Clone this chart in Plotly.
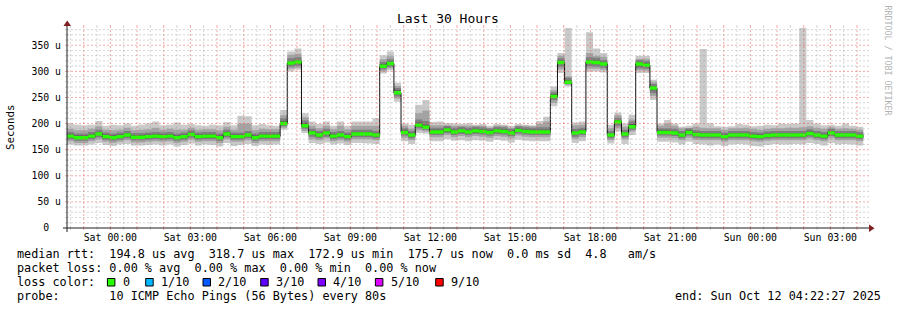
import pandas as pd
import plotly.graph_objects as go

# ---------------- data ----------------
bin_start = "2025-10-10 22:22:00"
bin_minutes = 16
range_start = "2025-10-10 22:22:27"
range_end = "2025-10-12 04:22:27"

median = [176,173,173,176,180,175,173,175,178,174,174,175,176,175,176,173,
          175,179,175,176,176,173,180,175,175,178,173,176,176,176,200,316,
          318,196,182,178,182,176,178,175,180,180,180,178,310,315,259,183,
          178,197,193,184,184,188,184,186,184,186,185,183,186,185,182,187,
          185,184,184,184,252,317,279,182,184,318,317,314,178,203,180,194,
          314,312,268,183,183,182,178,183,179,178,178,178,175,178,178,178,
          176,175,177,178,178,178,178,178,181,178,176,182,178,178,178,176]

ping1 = [160,158,158,160,163,159,157,160,161,158,158,159,160,158,160,156,
         159,162,158,160,159,156,163,157,159,161,157,160,159,160,188,300,
         303,182,163,161,164,160,162,159,163,163,162,161,296,302,242,166,
         161,182,181,166,166,170,167,168,166,168,167,165,169,167,164,169,
         167,166,166,166,233,297,271,163,166,300,300,298,162,185,161,178,
         297,297,245,165,165,164,160,165,161,160,158,160,157,160,161,160,
         157,156,159,161,160,160,161,160,163,161,158,163,160,161,160,158]
ping2 = [166,163,163,166,170,165,163,165,168,164,164,165,166,165,166,163,
         165,169,165,166,166,163,170,165,165,168,163,166,166,166,192,305,
         307,186,170,168,172,166,168,165,170,170,170,168,300,306,248,173,
         168,187,185,174,174,178,174,176,174,176,175,173,176,175,172,177,
         175,174,174,174,240,304,274,171,174,305,305,303,168,191,170,185,
         302,301,253,173,173,172,168,173,169,168,168,168,165,168,168,168,
         166,165,167,168,168,168,168,168,171,168,166,172,168,168,168,166]
ping3 = [170,167,167,170,174,169,167,169,172,168,168,169,170,169,170,167,
         169,173,169,170,170,167,174,169,169,172,167,170,170,170,195,309,
         311,190,175,172,175,170,172,169,174,174,174,172,304,309,252,177,
         172,191,188,178,178,182,178,180,178,180,179,177,180,179,176,181,
         179,178,178,178,245,309,276,175,178,310,309,307,172,196,174,188,
         306,305,258,177,177,176,172,177,173,172,172,172,169,172,172,172,
         170,169,171,172,172,172,172,172,175,172,170,176,172,172,172,170]
ping4 = [173,170,170,173,177,172,170,172,175,171,171,172,173,172,173,170,
         172,176,172,173,173,170,177,172,172,175,170,173,173,173,198,313,
         315,193,179,175,179,173,175,172,177,177,177,175,307,312,256,180,
         175,194,191,181,181,185,181,183,181,183,182,180,183,182,179,184,
         182,181,181,181,249,314,278,179,181,315,314,311,175,200,177,191,
         310,309,264,180,180,179,175,180,176,175,175,175,172,175,175,175,
         173,172,174,175,175,175,175,175,178,175,173,179,175,175,175,173]
ping5 = [175,172,172,175,179,174,172,174,177,173,173,174,175,174,175,172,
         174,178,174,175,175,172,179,174,174,177,172,175,175,175,199,315,
         317,195,181,177,181,175,177,174,179,179,179,177,309,314,258,182,
         177,196,192,183,183,187,183,185,183,185,184,182,185,184,181,186,
         184,183,183,183,251,316,279,181,183,317,316,313,177,202,179,193,
         313,311,267,182,182,181,177,182,178,177,177,177,174,177,177,177,
         175,174,176,177,177,177,177,177,180,177,175,181,177,177,177,175]
ping6 = [177,174,174,177,181,176,174,176,179,175,175,176,177,176,177,174,
         176,180,176,177,177,174,181,176,176,179,174,177,177,177,201,317,
         319,197,183,179,183,177,179,176,181,181,181,179,311,316,260,184,
         179,198,194,185,185,189,185,187,185,187,186,184,187,186,183,188,
         186,185,185,185,253,318,280,183,185,319,318,315,179,204,181,195,
         315,313,269,184,184,183,179,184,180,179,179,179,176,179,179,179,
         177,176,178,179,179,179,179,179,182,179,177,183,179,179,179,177]
ping7 = [180,177,177,180,184,179,177,179,182,178,178,179,180,179,180,177,
         179,183,179,180,180,177,184,179,179,182,177,180,180,180,205,320,
         322,201,186,182,186,180,182,179,184,184,184,182,314,319,264,187,
         182,202,198,188,188,192,188,190,188,190,189,187,190,189,186,191,
         189,188,188,188,256,321,283,186,188,322,321,318,182,207,184,199,
         318,316,272,187,187,186,182,187,183,182,182,182,179,182,182,182,
         180,179,181,182,182,182,182,182,185,182,180,186,182,182,182,180]
ping8 = [184,181,181,184,188,183,181,183,186,182,182,183,184,183,184,181,
         183,187,183,184,184,181,188,183,183,186,181,184,184,184,210,325,
         327,206,190,186,190,184,186,183,188,188,188,186,318,323,268,191,
         186,208,205,192,192,196,192,194,192,194,193,191,194,193,190,195,
         193,192,193,193,260,325,288,190,192,327,326,322,186,211,188,204,
         322,320,276,191,191,190,186,191,187,186,186,186,183,186,186,186,
         184,183,185,186,186,186,186,186,189,186,184,190,186,186,186,184]
ping9 = [190,187,187,190,195,188,187,188,192,187,188,189,192,188,190,188,
         188,192,188,189,189,187,194,188,200,200,187,190,189,189,216,332,
         334,212,196,191,196,189,196,189,196,196,196,196,323,329,272,196,
         190,220,225,197,197,196,196,196,196,196,196,192,196,196,192,196,
         196,195,199,204,264,330,290,197,198,335,330,328,191,216,194,208,
         324,324,279,196,200,196,191,191,194,192,191,191,188,191,191,192,
         190,188,190,191,191,192,192,193,195,192,190,193,190,191,190,188]
ping10 = [200,198,197,198,205,196,198,197,200,196,198,200,204,197,198,202,
          198,199,197,196,198,197,203,197,215,214,197,199,197,196,226,338,
          344,220,204,199,204,196,204,196,204,204,204,210,331,338,278,200,
          198,236,245,203,204,201,200,199,200,198,199,196,199,198,196,199,
          198,197,205,213,271,335,383,202,204,375,344,335,198,221,200,217,
          330,330,284,200,207,200,194,196,200,343,200,195,194,195,199,198,
          195,196,198,197,200,199,200,383,207,200,197,198,196,200,196,194]

y_tick_vals = [0, 50, 100, 150, 200, 250, 300, 350]
y_tick_text = ["0\u00a0\u00a0", "50 u", "100 u", "150 u", "200 u", "250 u", "300 u", "350 u"]
x_tick_vals = ["2025-10-11 00:00", "2025-10-11 03:00", "2025-10-11 06:00", "2025-10-11 09:00",
               "2025-10-11 12:00", "2025-10-11 15:00", "2025-10-11 18:00", "2025-10-11 21:00",
               "2025-10-12 00:00", "2025-10-12 03:00"]
x_tick_text = ["Sat 00:00", "Sat 03:00", "Sat 06:00", "Sat 09:00", "Sat 12:00", "Sat 15:00",
               "Sat 18:00", "Sat 21:00", "Sun 00:00", "Sun 03:00"]

legend_rtt = "median rtt:  194.8 us avg  318.7 us max  172.9 us min  175.7 us now  0.0 ms sd  4.8   am/s"
legend_loss = "packet loss: 0.00 % avg  0.00 % max  0.00 % min  0.00 % now"
legend_probe = "probe:       10 ICMP Echo Pings (56 Bytes) every 80s"
legend_end = "end: Sun Oct 12 04:22:27 2025"
loss_labels = ["0", "1/10", "2/10", "3/10", "4/10", "5/10", "9/10"]
loss_colors = ["#26ff00", "#00b8ff", "#0059ff", "#5e00ff", "#7e00ff", "#dd00ff", "#ff0000"]

# ---------------- styling / layout ----------------
MONO = "DejaVu Sans Mono"
W, H = 897, 310
L, R, T, B = 67, 30, 27, 82
PW, PH = W - L - R, H - T - B
y_max = 385


def px(x):
    return (x - L) / PW


def py(y):
    return (H - B - y) / PH


def nb(s):
    return s.replace(" ", "\u00a0")


edges = pd.date_range(bin_start, periods=len(median) + 1, freq=f"{bin_minutes}min")


def stepped(v):
    return list(v) + [v[-1]]


pings = [ping1, ping2, ping3, ping4, ping5, ping6, ping7, ping8, ping9, ping10]
smoke_colors = ["#cacaca", "#a4a4a4", "#7e7e7e", "#585858", "#323232"]

fig = go.Figure()
for i, col in enumerate(smoke_colors):
    lo, hi = pings[i], pings[9 - i]
    fig.add_trace(go.Scatter(x=edges, y=stepped(lo), mode="lines",
                             line=dict(width=0, shape="hv"), hoverinfo="skip", showlegend=False))
    fig.add_trace(go.Scatter(x=edges, y=stepped(hi), mode="lines", fill="tonexty", fillcolor=col,
                             line=dict(width=0, shape="hv"), hoverinfo="skip", showlegend=False))

fig.add_trace(go.Scatter(x=edges, y=stepped(median), mode="lines",
                         line=dict(width=1, shape="hv", color="#101010"),
                         hoverinfo="skip", showlegend=False))
half = 3.3
fig.add_trace(go.Scatter(x=edges, y=stepped([m - half for m in median]), mode="lines",
                         line=dict(width=0, shape="hv"), hoverinfo="skip", showlegend=False))
fig.add_trace(go.Scatter(x=edges, y=stepped([m + half for m in median]), mode="lines",
                         fill="tonexty", fillcolor=loss_colors[0],
                         line=dict(width=0, shape="hv"), hoverinfo="skip", showlegend=False))

shapes = []
grid_minor = "rgba(150,150,150,0.4)"
grid_major = "rgba(235,110,110,0.6)"
dots = "2px,2px"

# vertical grid
t = pd.Timestamp(range_start).ceil("30min")
t_end = pd.Timestamp(range_end)
while t <= t_end:
    col = grid_major if t.minute == 0 else grid_minor
    ts = t.strftime("%Y-%m-%d %H:%M:%S")
    shapes.append(dict(type="line", xref="x", yref="paper", x0=ts, x1=ts, y0=0, y1=1,
                       line=dict(color=col, width=1, dash=dots), layer="above"))
    shapes.append(dict(type="line", xref="x", yref="paper", x0=ts, x1=ts, y0=-2 / PH, y1=0,
                       line=dict(color=col, width=1), layer="above"))
    shapes.append(dict(type="line", xref="x", yref="paper", x0=ts, x1=ts, y0=1, y1=1 + 2 / PH,
                       line=dict(color=col, width=1), layer="above"))
    t += pd.Timedelta(minutes=30)

# horizontal grid
for v in range(10, y_max, 10):
    col = grid_major if v % 50 == 0 else grid_minor
    shapes.append(dict(type="line", xref="paper", yref="y", x0=0, x1=1, y0=v, y1=v,
                       line=dict(color=col, width=1, dash=dots), layer="above"))
    shapes.append(dict(type="line", xref="paper", yref="y", x0=-2 / PW, x1=0, y0=v, y1=v,
                       line=dict(color=col, width=1), layer="above"))
    shapes.append(dict(type="line", xref="paper", yref="y", x0=1, x1=1 + 2 / PW, y0=v, y1=v,
                       line=dict(color=col, width=1), layer="above"))

# axes + arrows
axis_col = "#1f1f1f"
arrow_col = "#801f1f"
shapes.append(dict(type="line", xref="paper", yref="paper", x0=px(63), x1=px(871), y0=0, y1=0,
                   line=dict(color=axis_col, width=1), layer="above"))
shapes.append(dict(type="line", xref="paper", yref="paper", x0=0, x1=0, y0=py(232), y1=py(23),
                   line=dict(color=axis_col, width=1), layer="above"))
shapes.append(dict(type="path", xref="paper", yref="paper",
                   path=f"M {px(869)} {py(224.5)} L {px(869)} {py(232)} L {px(874.5)} {py(228.2)} Z",
                   fillcolor=arrow_col, line=dict(width=0), layer="above"))
shapes.append(dict(type="path", xref="paper", yref="paper",
                   path=f"M {px(63.5)} {py(26)} L {px(71)} {py(26)} L {px(67.2)} {py(20.5)} Z",
                   fillcolor=arrow_col, line=dict(width=0), layer="above"))

# loss colour swatches
sw_x = [107.4, 145.7, 203.0, 260.7, 318.0, 375.4, 435.7]
for xx, c in zip(sw_x, loss_colors):
    shapes.append(dict(type="rect", xref="paper", yref="paper",
                       x0=px(xx), x1=px(xx + 7.5), y0=py(286), y1=py(278.5),
                       fillcolor=c, line=dict(color="#000000", width=1), layer="above"))

ann = []


def text(x, y, s, size=11.8, anchor="left", color="#000000", angle=0):
    ann.append(dict(xref="paper", yref="paper", x=px(x), y=py(y), text=nb(s), showarrow=False,
                    xanchor=anchor, yanchor="middle", textangle=angle, borderpad=0,
                    font=dict(family=MONO, size=size, color=color)))


text(448, 18.5, "Last 30 Hours", size=13, anchor="center")
text(11, 127, "Seconds", size=10.8, anchor="center", angle=-90)
text(887.5, 60, "RRDTOOL / TOBI OETIKER", size=8.3, anchor="center", color="#b4b4b4", angle=90)
text(16, 254.3, legend_rtt)
text(16, 268.3, legend_loss)
text(16, 282.3, "loss color:")
for xx, lab in zip(sw_x, loss_labels):
    text(xx + 14.3, 282.3, lab)
text(16, 295.7, legend_probe)
text(882, 295.7, legend_end, anchor="right")

fig.update_layout(width=W, height=H, margin=dict(l=L, r=R, t=T, b=B),
                  paper_bgcolor="white", plot_bgcolor="white", showlegend=False,
                  font=dict(family=MONO, color="black"),
                  shapes=shapes, annotations=ann)
fig.update_xaxes(type="date", range=[range_start, range_end], showgrid=False, zeroline=False,
                 showline=False, tickmode="array", tickvals=x_tick_vals, ticktext=x_tick_text,
                 ticks="", tickfont=dict(family=MONO, size=9.85, color="black"), ticklabelstandoff=2)
fig.update_yaxes(range=[0, y_max], showgrid=False, zeroline=False, showline=False,
                 tickmode="array", tickvals=y_tick_vals, ticktext=y_tick_text,
                 ticks="", tickfont=dict(family=MONO, size=9.8, color="black"), ticklabelstandoff=5)

fig.write_html("out.html")
